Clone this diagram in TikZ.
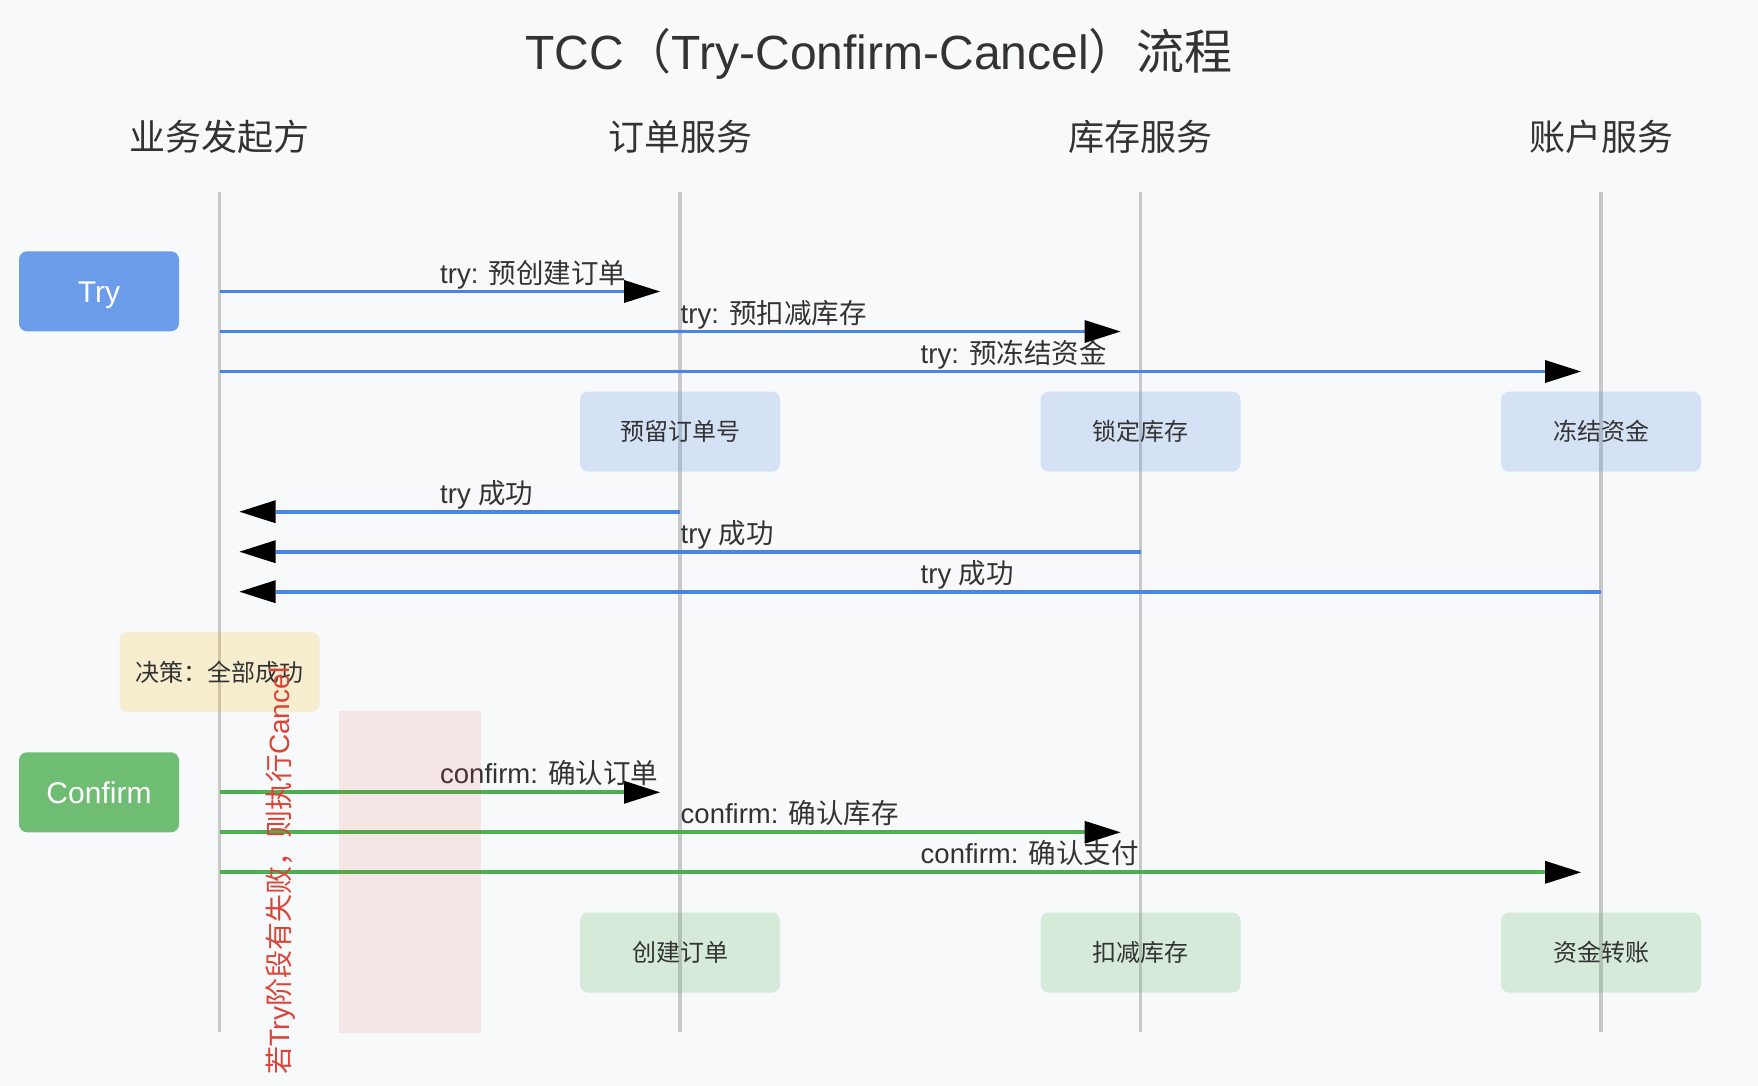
\documentclass[tikz,border=0pt]{standalone}
\usepackage{fontspec}
\setmainfont{Liberation Sans}
\newfontfamily\cjkfont{Noto Sans CJK SC}
\usetikzlibrary{arrows.meta}
\newcommand\zh[1]{{\cjkfont #1}}
\definecolor{bgc}{HTML}{F8F9FA}
\definecolor{txt}{HTML}{333333}
\definecolor{lifec}{HTML}{C8C8C8}
\definecolor{tryblue}{HTML}{4A86E8}
\definecolor{okgreen}{HTML}{4CAF50}
\definecolor{decy}{HTML}{F4B400}
\definecolor{cred}{HTML}{DB4437}
\begin{document}
\begin{tikzpicture}[x=1pt,y=-1pt,
  lifeline/.style={draw=lifec,line width=3.2pt},
  hdr/.style={text=txt,font=\cjkfont\fontsize{36}{40}\selectfont,anchor=center},
  ttl/.style={text=txt,font=\fontsize{48}{52}\selectfont,anchor=base},
  lbl/.style={text=txt,font=\fontsize{27.5}{30}\selectfont,anchor=base west,inner sep=0pt},
  phasebox/.style={rounded corners=8pt,minimum width=160pt,minimum height=80pt,text=white,font=\fontsize{30}{34}\selectfont,inner sep=0pt},
  statebox/.style={rounded corners=8pt,minimum width=200pt,minimum height=80pt,text=txt,font=\cjkfont\fontsize{24}{28}\selectfont,inner sep=0pt},
  headtip/.style={-{Triangle[length=36pt,width=23pt,color=black,line width=0pt]}},
  tryarrow/.style={draw=tryblue,line width=3.8pt,headtip},
  okarrow/.style={draw=okgreen,line width=3.8pt,headtip}]
\useasboundingbox (0,0) rectangle (1758,1086);
\fill[bgc] (0,0) rectangle (1758,1086);

% title and headers
\node[ttl] (title) at (879,70) {TCC\zh{（}Try-Confirm-Cancel\zh{）流程}};
\node[hdr] (h1) at (219.5,137) {业务发起方};
\node[hdr] (h2) at (680,137) {订单服务};
\node[hdr] (h3) at (1140.5,137) {库存服务};
\node[hdr] (h4) at (1601,137) {账户服务};

% lifelines
\coordinate (l1t) at (219.5,192); \coordinate (l1b) at (219.5,1032);
\coordinate (l2t) at (680,192);   \coordinate (l2b) at (680,1032);
\coordinate (l3t) at (1140.5,192);\coordinate (l3b) at (1140.5,1032);
\coordinate (l4t) at (1601,192);  \coordinate (l4b) at (1601,1032);
\draw[lifeline] (l1t) -- (l1b);
\draw[lifeline] (l2t) -- (l2b);
\draw[lifeline] (l3t) -- (l3b);
\draw[lifeline] (l4t) -- (l4b);

% phase boxes
\node[phasebox,fill=tryblue,fill opacity=0.8,text opacity=1] (try) at (99,291.3) {};
\node[text=white,font=\fontsize{30}{34}\selectfont,anchor=base] (trytxt) at (99,302) {Try};
\node[phasebox,fill=okgreen,fill opacity=0.8,text opacity=1] (confirm) at (99,792.3) {Confirm};

% state boxes after try
\node[statebox,fill=tryblue,fill opacity=0.2,text opacity=1] (s1) at (680,431.7) {预留订单号};
\node[statebox,fill=tryblue,fill opacity=0.2,text opacity=1] (s2) at (1140.5,431.7) {锁定库存};
\node[statebox,fill=tryblue,fill opacity=0.2,text opacity=1] (s3) at (1601,431.7) {冻结资金};

% state boxes after confirm
\node[statebox,fill=okgreen,fill opacity=0.2,text opacity=1] (c1) at (680,952.5) {创建订单};
\node[statebox,fill=okgreen,fill opacity=0.2,text opacity=1] (c2) at (1140.5,952.5) {扣减库存};
\node[statebox,fill=okgreen,fill opacity=0.2,text opacity=1] (c3) at (1601,952.5) {资金转账};

% decision
\node[statebox,fill=decy,fill opacity=0.17,text opacity=1] (dec) at (219.5,672) {决策：全部成功};

% try requests
\coordinate (t1s) at (219.5,291.5); \coordinate (t1e) at (660,291.5);
\coordinate (t2s) at (219.5,331.5); \coordinate (t2e) at (1120.5,331.5);
\coordinate (t3s) at (219.5,371.5); \coordinate (t3e) at (1581,371.5);
\draw[tryarrow] (t1s) -- (t1e);
\draw[tryarrow] (t2s) -- (t2e);
\draw[tryarrow] (t3s) -- (t3e);
\node[lbl] (tl1) at (440,283) {try: \zh{预创建订单}};
\node[lbl] (tl2) at (680.5,323) {try: \zh{预扣减库存}};
\node[lbl] (tl3) at (920.5,363) {try: \zh{预冻结资金}};

% try replies
\coordinate (r1s) at (680,511.7);    \coordinate (r1e) at (239.5,511.7);
\coordinate (r2s) at (1140.5,551.7); \coordinate (r2e) at (239.5,551.7);
\coordinate (r3s) at (1601,591.7);   \coordinate (r3e) at (239.5,591.7);
\draw[tryarrow] (r1s) -- (r1e);
\draw[tryarrow] (r2s) -- (r2e);
\draw[tryarrow] (r3s) -- (r3e);
\node[lbl] (rl1) at (440,503.2) {try \zh{成功}};
\node[lbl] (rl2) at (680.5,543.2) {try \zh{成功}};
\node[lbl] (rl3) at (920.5,583.2) {try \zh{成功}};

% confirm requests
\coordinate (k1s) at (219.5,792.3); \coordinate (k1e) at (660,792.3);
\coordinate (k2s) at (219.5,832.3); \coordinate (k2e) at (1120.5,832.3);
\coordinate (k3s) at (219.5,872.3); \coordinate (k3e) at (1581,872.3);
\draw[okarrow] (k1s) -- (k1e);
\draw[okarrow] (k2s) -- (k2e);
\draw[okarrow] (k3s) -- (k3e);
\node[lbl] (kl1) at (440,783.8) {confirm: \zh{确认订单}};
\node[lbl] (kl2) at (680.5,823.8) {confirm: \zh{确认库存}};
\node[lbl] (kl3) at (920.5,863.8) {confirm: \zh{确认支付}};

% cancel region and note
\fill[cred,fill opacity=0.1] (338.7,711) rectangle (481,1033);
\node[text=cred,font=\fontsize{28}{32}\selectfont,rotate=90,inner sep=0pt] (note) at (281,871) {\zh{若}Try\zh{阶段有失败，则执行}Cancel};
\end{tikzpicture}
\end{document}
